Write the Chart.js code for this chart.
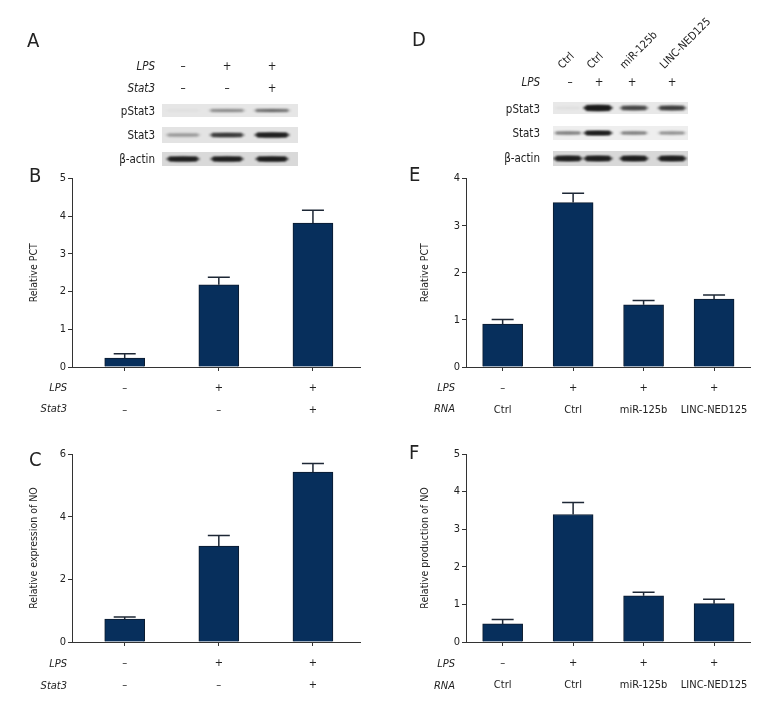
<!DOCTYPE html>
<html><head><meta charset="utf-8">
<script src="https://cdn.jsdelivr.net/npm/chart.js@4.4.1/dist/chart.umd.min.js"></script>
<style>
body{margin:0;background:#fff;width:780px;height:720px;overflow:hidden;position:relative;font-family:"DejaVu Sans Condensed","Liberation Sans Narrow",sans-serif;color:#222}
.t{position:absolute;font-size:11px;line-height:14px;height:14px;white-space:nowrap;z-index:2}
.big{font-size:11.5px}
.i{font-style:italic}
.L{position:absolute;font-size:20px;line-height:22px;z-index:2}
canvas{position:absolute}
</style></head><body>
<canvas id="blots" width="780" height="170" style="left:0;top:0"></canvas>
<canvas id="cB" width="350" height="255" style="left:20px;top:170px"></canvas>
<canvas id="cC" width="350" height="255" style="left:20px;top:445px"></canvas>
<canvas id="cE" width="360" height="255" style="left:400px;top:170px"></canvas>
<canvas id="cF" width="360" height="255" style="left:400px;top:445px"></canvas>
<script>
// ---------- data ----------
const stat3LPS = ['–', '+', '+'];
const stat3Stat3 = ['–', '–', '+'];
const rnaLPS = ['–', '+', '+', '+'];
const rnaRNA = ['Ctrl', 'Ctrl', 'miR-125b', 'LINC-NED125'];

const pctStat3 = [0.24, 2.18, 3.82];
const pctStat3Err = [0.11, 0.20, 0.34];
const noStat3 = [0.73, 3.06, 5.42];
const noStat3Err = [0.07, 0.34, 0.28];
const pctRNA = [0.91, 3.49, 1.32, 1.44];
const pctRNAErr = [0.10, 0.20, 0.09, 0.09];
const noRNA = [0.48, 3.39, 1.23, 1.02];
const noRNAErr = [0.12, 0.32, 0.09, 0.12];

const blotRows = ['pStat3', 'Stat3', 'β-actin'];
const blotA_pStat3 = [0.02, 0.30, 0.40];
const blotA_Stat3 = [0.22, 0.62, 0.85];
const blotA_actin = [0.85, 0.85, 0.88];
const blotD_pStat3 = [0.02, 0.95, 0.55, 0.60];
const blotD_Stat3 = [0.35, 0.90, 0.35, 0.28];
const blotD_actin = [0.85, 0.85, 0.85, 0.85];

const FONT = '"DejaVu Sans Condensed","Liberation Sans Narrow",sans-serif';

// ---------- text helpers ----------
function txt(s, x, y, align, cls) {
  const d = document.createElement('div');
  d.className = 't ' + (cls || '');
  d.textContent = s;
  d.style.top = (y - 7) + 'px';
  if (align === 'r') { d.style.right = (780 - x) + 'px'; }
  else if (align === 'c') { d.style.left = x + 'px'; d.style.transform = 'translateX(-50%)'; }
  else { d.style.left = x + 'px'; }
  document.body.appendChild(d);
  return d;
}
function letter(s, x, y) {
  const d = document.createElement('div');
  d.className = 'L'; d.textContent = s;
  d.style.left = x + 'px'; d.style.top = y + 'px';
  document.body.appendChild(d);
}
letter('A', 27, 29); letter('B', 29, 164); letter('C', 29, 448);
letter('D', 412, 28); letter('E', 409, 163); letter('F', 409, 441);

// Panel A header
const aCols = [183, 227, 272];
txt('LPS', 155, 66, 'r', 'i big');
txt('Stat3', 155, 88, 'r', 'i big');
aCols.forEach((x, i) => { txt(stat3LPS[i], x, 66, 'c', 'big'); txt(stat3Stat3[i], x, 88, 'c', 'big'); });
[111, 135, 159].forEach((y, i) => txt(blotRows[i], 155, y, 'r', 'big'));

// Panel D header
const dSign = [570, 599, 632, 672];
txt('LPS', 540, 82, 'r', 'i big');
dSign.forEach((x, i) => {
  txt(rnaLPS[i], x, 82, 'c', 'big');
  const d = txt(rnaRNA[i], x - 5, 65, 'l');
  d.style.transformOrigin = '0 100%';
  d.style.transform = 'rotate(-45deg)';
});
[109, 133, 158].forEach((y, i) => txt(blotRows[i], 540, y, 'r', 'big'));

// x row headers
txt('LPS', 67, 388, 'r', 'i'); txt('Stat3', 67, 409, 'r', 'i');
txt('LPS', 67, 664, 'r', 'i'); txt('Stat3', 67, 686, 'r', 'i');
txt('LPS', 455, 388, 'r', 'i'); txt('RNA', 455, 409, 'r', 'i');
txt('LPS', 455, 664, 'r', 'i'); txt('RNA', 455, 686, 'r', 'i');

// ---------- blots ----------
(function () {
  const ctx = document.getElementById('blots').getContext('2d');
  function blot(x0, y0, w, h, centers, vals, bandW, bandH, bg) {
    ctx.fillStyle = bg; ctx.fillRect(x0, y0, w, h);
    ctx.save();
    ctx.beginPath(); ctx.rect(x0, y0, w, h); ctx.clip();
    ctx.filter = 'blur(1.1px)';
    centers.forEach((cx, i) => {
      const a = vals[i];
      const bh = bandH * (0.6 + 0.5 * a);
      ctx.fillStyle = 'rgba(25,25,25,' + a + ')';
      ctx.beginPath();
      ctx.ellipse(cx, y0 + h / 2, bandW / 2, bh / 2, 0, 0, Math.PI * 2);
      ctx.fill();
      ctx.fillRect(cx - bandW / 2 + 3, y0 + h / 2 - bh / 2, bandW - 6, bh);
    });
    ctx.restore();
  }
  blot(162, 104, 136, 13, aCols, blotA_pStat3, 38, 3.5, '#e6e6e6');
  blot(162, 127, 136, 16, aCols, blotA_Stat3, 36, 4.5, '#e3e3e3');
  blot(162, 152, 136, 14, aCols, blotA_actin, 34, 4.5, '#d9d9d9');
  const dBand = [568, 598, 634, 672];
  blot(553, 102, 135, 12, dBand, blotD_pStat3, 30, 5, '#e8e8e8');
  blot(553, 126, 135, 14, dBand, blotD_Stat3, 30, 4, '#eeeeee');
  blot(553, 151, 135, 15, dBand, blotD_actin, 30, 5, '#d8d8d8');
})();

// ---------- charts ----------
const errorBars = {
  id: 'errorBars',
  afterDatasetsDraw(chart, args, opts) {
    const meta = chart.getDatasetMeta(0);
    const ds = chart.data.datasets[0];
    const y = chart.scales.y;
    const ctx = chart.ctx;
    ctx.save();
    ctx.strokeStyle = '#1d2735';
    ctx.lineWidth = 1.5;
    meta.data.forEach((bar, i) => {
      const top = y.getPixelForValue(ds.data[i].y + opts.errs[i]);
      ctx.beginPath();
      ctx.moveTo(bar.x, bar.y);
      ctx.lineTo(bar.x, top);
      ctx.moveTo(bar.x - 11, top);
      ctx.lineTo(bar.x + 11, top);
      ctx.stroke();
    });
    ctx.restore();
  }
};

function makeChart(id, values, errs, row1, row2, yMax, yStep, yTitle, xMin, xMax, yW, padTop, titlePad) {
  new Chart(document.getElementById(id), {
    type: 'bar',
    data: {
      datasets: [{
        data: values.map((v, i) => ({ x: i, y: v })),
        backgroundColor: '#072f5c',
        borderColor: '#0c1b2e',
        borderWidth: 1,
        barThickness: 40
      }]
    },
    options: {
      responsive: false, animation: false, devicePixelRatio: 1,
      layout: { padding: { top: padTop, right: 10, left: 0, bottom: 0 } },
      plugins: { legend: { display: false }, tooltip: { enabled: false }, errorBars: { errs: errs } },
      scales: {
        x: {
          type: 'linear', min: xMin, max: xMax, offset: false,
          afterBuildTicks(s) { s.ticks = values.map((_, i) => ({ value: i })); },
          afterFit(s) { s.height = 58; },
          grid: { drawOnChartArea: false, drawTicks: true, tickLength: 4, color: '#333', offset: false },
          border: { color: '#333', width: 1 },
          ticks: {
            callback: (v, i) => [row1[i], row2[i]],
            font: { family: FONT, size: 11, lineHeight: 2 },
            color: '#222', padding: 6, maxRotation: 0, autoSkip: false
          }
        },
        y: {
          min: 0, max: yMax,
          afterFit(s) { s.width = yW; },
          grid: { drawOnChartArea: false, drawTicks: true, tickLength: 4, color: '#333' },
          border: { color: '#333', width: 1 },
          ticks: { stepSize: yStep, font: { family: FONT, size: 11 }, color: '#222', padding: 2 },
          title: { display: true, text: yTitle, font: { family: FONT, size: 10.5 }, color: '#222', padding: { top: titlePad, bottom: 0 } }
        }
      }
    },
    plugins: [errorBars]
  });
}

makeChart('cB', pctStat3, pctStat3Err, stat3LPS, stat3Stat3, 5, 1, 'Relative PCT', -0.56, 2.5, 52, 7, 8);
makeChart('cC', noStat3, noStat3Err, stat3LPS, stat3Stat3, 6, 2, 'Relative expression of NO', -0.56, 2.5, 52, 9, 8);
makeChart('cE', pctRNA, pctRNAErr, rnaLPS, rnaRNA, 4, 1, 'Relative PCT', -0.52, 3.51, 66, 8, 19);
makeChart('cF', noRNA, noRNAErr, rnaLPS, rnaRNA, 5, 1, 'Relative production of NO', -0.52, 3.51, 66, 9, 19);
</script>
</body></html>
